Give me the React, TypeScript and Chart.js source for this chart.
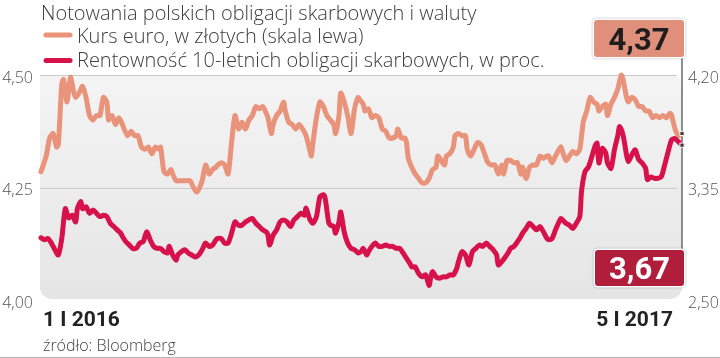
import React, { useEffect, useRef } from "react";
import { Chart, registerables } from "chart.js";

Chart.register(...registerables);

const TITLE = "Notowania polskich obligacji skarbowych i waluty";
const LEGEND_EUR = "Kurs euro, w złotych (skala lewa)";
const LEGEND_YIELD = "Rentowność 10-letnich obligacji skarbowych, w proc.";
const START_LABEL = "1 I 2016";
const END_LABEL = "5 I 2017";
const SOURCE = "źródło: Bloomberg";
const LEFT_TICKS = [4.0, 4.25, 4.5];
const RIGHT_TICKS = [2.5, 3.35, 4.2];
const DAYS_TOTAL = 370;

// days since 1 I 2016
const eurDays = [
  0, 3, 5, 7, 9, 10, 12, 13, 15, 17,
  19, 20, 22, 24, 26, 28, 30, 32, 34, 36,
  38, 39, 41, 43, 45, 47, 48, 50, 52, 54,
  56, 58, 60, 62, 64, 66, 68, 69, 71, 73,
  75, 76, 78, 80, 83, 86, 88, 90, 93, 95,
  97, 99, 101, 102, 104, 106, 108, 110, 112, 114,
  116, 118, 120, 122, 124, 126, 128, 130, 131, 133,
  134, 136, 138, 140, 141, 143, 145, 147, 149, 151,
  153, 155, 156, 157, 159, 161, 163, 165, 167, 169,
  170, 172, 173, 175, 177, 179, 181, 183, 184, 186,
  187, 189, 191, 193, 195, 197, 199, 201, 203, 205,
  206, 208, 210, 211, 212, 214, 216, 218, 220, 222,
  224, 226, 228, 229, 231, 233, 234, 236, 238, 239,
  241, 243, 245, 246, 248, 250, 252, 254, 256, 258,
  260, 262, 264, 266, 267, 269, 271, 273, 275, 277,
  278, 280, 282, 284, 286, 288, 290, 292, 293, 295,
  297, 300, 301, 303, 305, 307, 309, 311, 313, 315,
  317, 319, 321, 322, 324, 326, 327, 329, 331, 333,
  335, 336, 338, 339, 341, 343, 345, 347, 349, 351,
  353, 355, 357, 359, 361, 363, 364, 366, 368, 370,
];
const eurValues = [
  4.285, 4.32, 4.36, 4.37, 4.34, 4.345, 4.48, 4.49, 4.44, 4.495,
  4.46, 4.45, 4.46, 4.475, 4.45, 4.41, 4.40, 4.41, 4.41, 4.45,
  4.44, 4.40, 4.41, 4.39, 4.405, 4.39, 4.38, 4.365, 4.375, 4.365,
  4.365, 4.34, 4.335, 4.34, 4.325, 4.34, 4.335, 4.34, 4.285, 4.28,
  4.29, 4.28, 4.265, 4.265, 4.265, 4.265, 4.25, 4.24, 4.265, 4.30,
  4.28, 4.29, 4.295, 4.30, 4.305, 4.30, 4.28, 4.35, 4.41, 4.38,
  4.395, 4.38, 4.40, 4.41, 4.43, 4.425, 4.43, 4.415, 4.405, 4.37,
  4.39, 4.41, 4.42, 4.44, 4.42, 4.395, 4.39, 4.38, 4.39, 4.38,
  4.365, 4.335, 4.32, 4.35, 4.405, 4.44, 4.43, 4.41, 4.40, 4.39,
  4.37, 4.41, 4.46, 4.44, 4.41, 4.37, 4.425, 4.45, 4.445, 4.435,
  4.42, 4.425, 4.405, 4.41, 4.405, 4.38, 4.375, 4.36, 4.36, 4.365,
  4.38, 4.36, 4.36, 4.35, 4.315, 4.295, 4.28, 4.27, 4.26, 4.26,
  4.27, 4.29, 4.295, 4.32, 4.31, 4.30, 4.32, 4.325, 4.34, 4.365,
  4.37, 4.365, 4.365, 4.335, 4.32, 4.335, 4.35, 4.345, 4.325, 4.305,
  4.30, 4.30, 4.28, 4.30, 4.28, 4.31, 4.31, 4.305, 4.305, 4.28,
  4.295, 4.27, 4.295, 4.30, 4.30, 4.32, 4.315, 4.32, 4.32, 4.305,
  4.32, 4.34, 4.33, 4.31, 4.32, 4.33, 4.325, 4.335, 4.395, 4.42,
  4.45, 4.44, 4.435, 4.42, 4.43, 4.435, 4.41, 4.435, 4.45, 4.47,
  4.50, 4.49, 4.45, 4.44, 4.45, 4.445, 4.43, 4.43, 4.42, 4.42,
  4.405, 4.41, 4.405, 4.41, 4.405, 4.415, 4.41, 4.38, 4.365, 4.37,
];

const yieldDays = [
  0, 2, 4, 6, 8, 10, 12, 14, 16, 18,
  20, 21, 23, 24, 26, 28, 30, 32, 34, 36,
  38, 40, 42, 44, 46, 47, 49, 51, 53, 55,
  57, 59, 61, 63, 65, 67, 69, 71, 73, 74,
  76, 78, 79, 81, 83, 85, 87, 89, 91, 93,
  95, 97, 99, 101, 102, 104, 106, 108, 110, 112,
  114, 116, 118, 120, 122, 124, 126, 128, 130, 131,
  132, 134, 136, 138, 140, 142, 144, 146, 148, 150,
  152, 153, 155, 157, 159, 161, 163, 164, 166, 167,
  169, 170, 172, 173, 175, 177, 179, 181, 183, 185,
  186, 188, 189, 191, 193, 195, 197, 199, 201, 203,
  205, 207, 209, 211, 213, 214, 216, 218, 220, 222,
  224, 225, 226, 228, 230, 232, 234, 236, 238, 240,
  241, 243, 245, 247, 249, 251, 253, 255, 257, 259,
  261, 263, 264, 266, 268, 270, 271, 273, 275, 277,
  278, 280, 282, 284, 286, 288, 290, 292, 293, 295,
  297, 300, 301, 303, 305, 307, 309, 311, 312, 314,
  316, 318, 320, 321, 322, 324, 326, 327, 329, 331,
  333, 334, 336, 338, 339, 341, 343, 345, 347, 349,
  350, 352, 354, 356, 358, 360, 362, 364, 366, 368,
  370,
];
const yieldValues = [
  2.97, 2.955, 2.965, 2.93, 2.88, 2.84, 2.965, 3.19, 3.12, 3.14,
  3.09, 3.19, 3.245, 3.19, 3.205, 3.155, 3.18, 3.155, 3.13, 3.14,
  3.13, 3.08, 3.055, 3.03, 3.005, 2.98, 2.94, 2.915, 2.89, 2.89,
  2.93, 2.94, 3.015, 2.955, 2.905, 2.89, 2.89, 2.865, 2.855, 2.905,
  2.84, 2.80, 2.84, 2.865, 2.88, 2.855, 2.84, 2.825, 2.84, 2.88,
  2.93, 2.905, 2.915, 2.955, 2.965, 2.965, 2.93, 2.93, 3.005, 3.09,
  3.065, 3.065, 3.09, 3.105, 3.115, 3.08, 3.055, 3.03, 3.015, 2.99,
  2.915, 2.99, 3.03, 3.09, 3.105, 3.09, 3.055, 3.105, 3.13, 3.155,
  3.14, 3.195, 3.115, 3.08, 3.13, 3.28, 3.295, 3.27, 3.09, 3.065,
  3.055, 3.005, 3.09, 3.165, 3.015, 2.93, 2.89, 2.88, 2.855, 2.87,
  2.89, 2.84, 2.865, 2.905, 2.93, 2.905, 2.905, 2.915, 2.905, 2.905,
  2.89, 2.89, 2.855, 2.815, 2.775, 2.75, 2.75, 2.70, 2.675, 2.69,
  2.61, 2.675, 2.715, 2.675, 2.665, 2.675, 2.675, 2.69, 2.69, 2.74,
  2.79, 2.865, 2.84, 2.765, 2.865, 2.89, 2.915, 2.905, 2.93, 2.905,
  2.88, 2.84, 2.765, 2.79, 2.825, 2.865, 2.89, 2.905, 2.94, 2.98,
  3.005, 3.04, 3.08, 3.055, 3.03, 3.055, 3.015, 2.965, 2.955, 2.965,
  3.03, 3.115, 3.105, 3.08, 3.065, 3.04, 3.08, 3.13, 3.32, 3.47,
  3.505, 3.585, 3.67, 3.685, 3.535, 3.645, 3.61, 3.535, 3.495, 3.635,
  3.745, 3.81, 3.745, 3.595, 3.545, 3.595, 3.635, 3.56, 3.535, 3.495,
  3.41, 3.43, 3.42, 3.42, 3.43, 3.52, 3.62, 3.71, 3.72, 3.695,
  3.67,
];

const EUR_COLOR = "#e8937a";
const YIELD_COLOR = "#d7124a";
const TEXT_COLOR = "#3d3d3d";
const FONT = "'Open Sans'";
const NUM_FONT = "Roboto";

const fmt = (v: number) => v.toFixed(2).replace(".", ",");

function badge(
  ctx: CanvasRenderingContext2D,
  x: number,
  y: number,
  w: number,
  h: number,
  fill: string,
  color: string,
  text: string
) {
  ctx.save();
  ctx.shadowColor = "rgba(0,0,0,0.35)";
  ctx.shadowBlur = 2;
  ctx.fillStyle = "#ffffff";
  ctx.beginPath();
  ctx.roundRect(x - 1.5, y - 1.5, w + 3, h + 3, 4);
  ctx.fill();
  ctx.shadowColor = "transparent";
  ctx.fillStyle = fill;
  ctx.beginPath();
  ctx.roundRect(x, y, w, h, 3);
  ctx.fill();
  ctx.fillStyle = color;
  ctx.font = `bold 31px ${NUM_FONT}`;
  ctx.textAlign = "center";
  ctx.textBaseline = "alphabetic";
  ctx.fillText(text, x + w / 2, y + h / 2 + 11);
  ctx.restore();
}

const decorPlugin = {
  id: "decor",
  beforeDatasetsDraw(chart: any) {
    const { ctx, chartArea } = chart;
    const yL = chart.scales.yL;
    const { left, right, top, bottom } = chartArea;
    ctx.save();
    const g = ctx.createLinearGradient(0, top, 0, bottom);
    g.addColorStop(0, "#f4f4f4");
    g.addColorStop(1, "#e5e5e5");
    ctx.fillStyle = g;
    ctx.beginPath();
    ctx.roundRect(left - 1, top, right - left + 1, bottom - 1 - top, [4, 10, 12, 12]);
    ctx.fill();
    // grid lines
    ctx.strokeStyle = "#cbcbcb";
    ctx.lineWidth = 1.2;
    LEFT_TICKS.forEach((t) => {
      if (t === yL.min) return;
      const y = Math.round(yL.getPixelForValue(t)) + 0.5;
      ctx.beginPath();
      ctx.moveTo(left - 1, y);
      ctx.lineTo(right - 5, y);
      ctx.stroke();
    });
    // right axis line
    ctx.strokeStyle = "#6a6a6a";
    ctx.lineWidth = 1.5;
    ctx.beginPath();
    ctx.moveTo(right, 56);
    ctx.lineTo(right, 252);
    ctx.stroke();
    ctx.restore();
  },
  afterDraw(chart: any) {
    const { ctx } = chart;
    const yL = chart.scales.yL;
    const yR = chart.scales.yR;
    ctx.save();
    // title & legend
    ctx.fillStyle = TEXT_COLOR;
    ctx.font = `300 20px ${FONT}`;
    ctx.textAlign = "left";
    ctx.textBaseline = "alphabetic";
    ctx.fillText(TITLE, 41, 20);
    ctx.fillText(LEGEND_EUR, 77, 43);
    ctx.fillText(LEGEND_YIELD, 77, 67);
    ctx.lineCap = "round";
    ctx.lineWidth = 5;
    ctx.strokeStyle = EUR_COLOR;
    ctx.beginPath();
    ctx.moveTo(46, 35);
    ctx.lineTo(70, 35);
    ctx.stroke();
    ctx.strokeStyle = YIELD_COLOR;
    ctx.beginPath();
    ctx.moveTo(46, 60.5);
    ctx.lineTo(70, 60.5);
    ctx.stroke();

    // tick labels
    ctx.fillStyle = "#555555";
    ctx.font = `300 16px ${FONT}`;
    ctx.textBaseline = "middle";
    ctx.textAlign = "right";
    LEFT_TICKS.forEach((t) => {
      ctx.fillText(fmt(t), 33, yL.getPixelForValue(t) + 3);
    });
    ctx.textAlign = "left";
    RIGHT_TICKS.forEach((t) => {
      ctx.fillText(fmt(t), 688, yR.getPixelForValue(t) + 3);
    });

    // date labels
    ctx.fillStyle = "#222222";
    ctx.font = `bold 21px ${NUM_FONT}`;
    ctx.textBaseline = "alphabetic";
    ctx.textAlign = "left";
    ctx.fillText(START_LABEL, 43, 326);
    ctx.textAlign = "right";
    ctx.fillText(END_LABEL, 673, 326);

    ctx.fillStyle = "#444444";
    ctx.font = `300 16px ${FONT}`;
    ctx.textAlign = "left";
    ctx.fillText(SOURCE, 43, 351);

    // frame
    ctx.strokeStyle = "#b5b5b5";
    ctx.lineWidth = 1;
    ctx.beginPath();
    ctx.moveTo(0, 357.5);
    ctx.lineTo(720, 357.5);
    ctx.stroke();

    // badges
    badge(ctx, 594, 20, 90, 37, "#e0907a", "#1e1e1e", fmt(eurValues[eurValues.length - 1]));
    badge(ctx, 595, 250, 89, 36, "#b01e3b", "#ffffff", fmt(yieldValues[yieldValues.length - 1]));
    ctx.restore();
  },
};

export default function App() {
  const ref = useRef<HTMLCanvasElement | null>(null);
  useEffect(() => {
    if (!ref.current) return;
    const lastE = eurDays.length - 1;
    const lastY = yieldDays.length - 1;
    const chart = new Chart(ref.current, {
      type: "line",
      data: {
        datasets: [
          {
            label: LEGEND_YIELD,
            data: yieldDays.map((d, i) => ({ x: d, y: yieldValues[i] })),
            yAxisID: "yR",
            borderColor: YIELD_COLOR,
            borderWidth: 5,
            tension: 0.25,
            borderJoinStyle: "round",
            borderCapStyle: "round",
            pointRadius: (c: any) => (c.dataIndex === lastY ? 3 : 0),
            pointStyle: "rect",
            pointBackgroundColor: "#3a3a3a",
            pointBorderColor: "#ffffff",
            pointBorderWidth: 1,
            clip: 10,
          } as any,
          {
            label: LEGEND_EUR,
            data: eurDays.map((d, i) => ({ x: d, y: eurValues[i] })),
            yAxisID: "yL",
            borderColor: EUR_COLOR,
            borderWidth: 5,
            tension: 0.25,
            borderJoinStyle: "round",
            borderCapStyle: "round",
            pointRadius: (c: any) => (c.dataIndex === lastE ? 3 : 0),
            pointStyle: "rect",
            pointBackgroundColor: "#3a3a3a",
            pointBorderColor: "#ffffff",
            pointBorderWidth: 1,
            clip: 10,
          } as any,
        ],
      },
      options: {
        responsive: false,
        devicePixelRatio: 1,
        animation: false,
        layout: { padding: { left: 41, right: 38, top: 75, bottom: 58 } },
        plugins: { legend: { display: false }, tooltip: { enabled: false } },
        scales: {
          x: { type: "linear", min: 0, max: DAYS_TOTAL, display: false },
          yL: { type: "linear", position: "left", min: 4.0, max: 4.5, display: false },
          yR: { type: "linear", position: "right", min: 2.5, max: 4.2, display: false },
        },
      },
      plugins: [decorPlugin],
    });
    return () => chart.destroy();
  }, []);
  return (
    <div style={{ position: "absolute", left: 0, top: 0, width: 720, height: 358, background: "#fff" }}>
      <canvas ref={ref} width={720} height={358} />
    </div>
  );
}
